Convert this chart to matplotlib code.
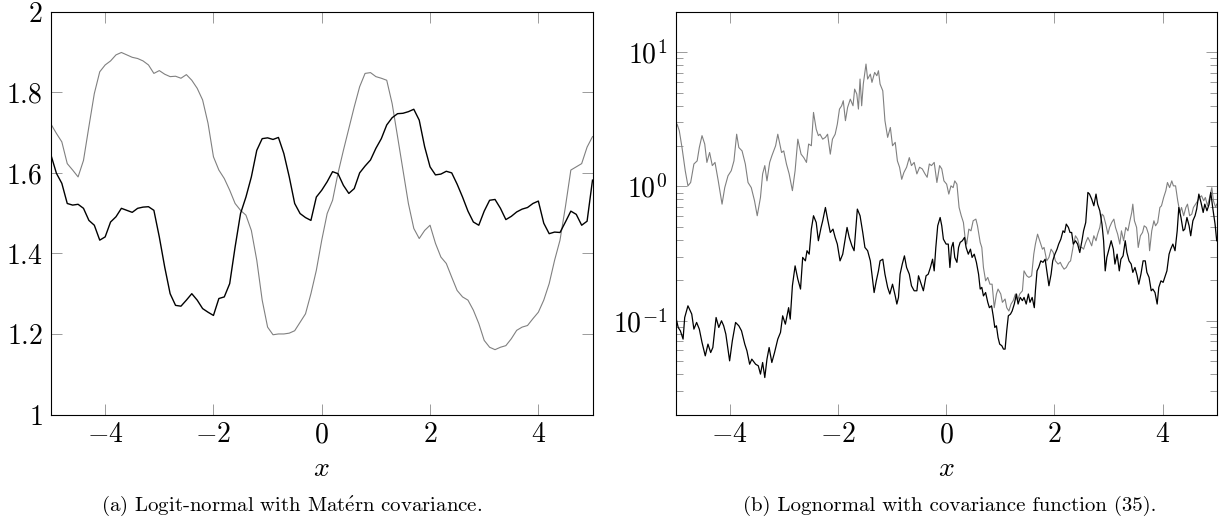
import matplotlib
matplotlib.use("Agg")
import matplotlib.pyplot as plt
import numpy as np
from matplotlib.ticker import FuncFormatter, NullFormatter, LogLocator, FixedLocator

plt.rcParams['mathtext.fontset'] = 'cm'
plt.rcParams['font.family'] = ['cmr10', 'DejaVu Serif']
plt.rcParams['axes.formatter.use_mathtext'] = True

# ---------------- data: panel (a) ----------------
x_a = np.linspace(-5, 5, 101)
grey_a = [1.721, 1.698, 1.677, 1.623, 1.607, 1.590, 1.631, 1.715, 1.797, 1.851,
          1.868, 1.878, 1.893, 1.899, 1.893, 1.887, 1.884, 1.878, 1.868, 1.847,
          1.854, 1.845, 1.839, 1.840, 1.835, 1.844, 1.830, 1.810, 1.781, 1.723,
          1.640, 1.607, 1.586, 1.557, 1.524, 1.507, 1.495, 1.457, 1.383, 1.284,
          1.217, 1.198, 1.200, 1.200, 1.202, 1.208, 1.229, 1.250, 1.300, 1.358,
          1.433, 1.499, 1.532, 1.599, 1.656, 1.710, 1.764, 1.814, 1.847, 1.849,
          1.839, 1.835, 1.830, 1.772, 1.690, 1.607, 1.524, 1.462, 1.437, 1.457,
          1.470, 1.425, 1.391, 1.375, 1.341, 1.308, 1.292, 1.284, 1.259, 1.226,
          1.184, 1.167, 1.161, 1.167, 1.171, 1.188, 1.209, 1.217, 1.221, 1.238,
          1.254, 1.284, 1.325, 1.383, 1.433, 1.516, 1.607, 1.615, 1.623, 1.664,
          1.690]
black_a = [1.644, 1.599, 1.574, 1.524, 1.520, 1.522, 1.512, 1.482, 1.470, 1.433,
           1.441, 1.478, 1.491, 1.512, 1.507, 1.502, 1.512, 1.515, 1.516, 1.507,
           1.441, 1.366, 1.300, 1.271, 1.269, 1.284, 1.300, 1.284, 1.263, 1.254,
           1.246, 1.288, 1.292, 1.325, 1.416, 1.499, 1.540, 1.590, 1.656, 1.685,
           1.687, 1.683, 1.688, 1.648, 1.590, 1.524, 1.499, 1.489, 1.482, 1.540,
           1.557, 1.578, 1.603, 1.598, 1.569, 1.549, 1.561, 1.600, 1.617, 1.632,
           1.661, 1.685, 1.719, 1.737, 1.747, 1.748, 1.752, 1.758, 1.731, 1.665,
           1.615, 1.595, 1.597, 1.604, 1.600, 1.572, 1.540, 1.505, 1.478, 1.470,
           1.505, 1.532, 1.534, 1.512, 1.484, 1.492, 1.503, 1.510, 1.514, 1.524,
           1.530, 1.475, 1.449, 1.453, 1.452, 1.478, 1.505, 1.497, 1.470, 1.480,
           1.582]

# ---------------- data: panel (b) (x, value) ----------------
grey_b = [(-5.00, 2.60), (-4.97, 2.91), (-4.93, 2.60), (-4.88, 1.95), (-4.82, 1.31), (-4.77, 1.01),
          (-4.72, 1.07), (-4.66, 1.47), (-4.60, 1.55), (-4.56, 1.95), (-4.51, 2.39), (-4.46, 2.07),
          (-4.42, 1.51), (-4.37, 1.79), (-4.32, 1.43), (-4.27, 1.51), (-4.21, 1.10), (-4.14, 0.738),
          (-4.09, 0.98), (-4.03, 1.20), (-3.97, 1.31), (-3.92, 1.55), (-3.87, 2.45), (-3.83, 1.95),
          (-3.77, 1.84), (-3.71, 1.47), (-3.66, 1.07), (-3.60, 0.98), (-3.54, 0.782), (-3.49, 0.605),
          (-3.43, 0.828), (-3.39, 1.24), (-3.35, 1.43), (-3.31, 1.10), (-3.26, 1.51), (-3.22, 1.69),
          (-3.15, 2.01), (-3.11, 2.45), (-3.04, 1.79), (-3.00, 1.84), (-2.95, 1.47), (-2.90, 1.24),
          (-2.84, 0.93), (-2.79, 1.31), (-2.74, 2.25), (-2.68, 1.74), (-2.63, 1.64), (-2.58, 1.51),
          (-2.54, 2.07), (-2.49, 2.01), (-2.45, 3.56),
          (-2.40, 2.67), (-2.36, 2.39), (-2.33, 2.45), (-2.28, 2.25), (-2.23, 2.32), (-2.19, 2.45),
          (-2.14, 1.74), (-2.10, 2.25), (-2.05, 2.45), (-2.01, 2.91), (-1.97, 3.77), (-1.93, 3.99),
          (-1.90, 4.35), (-1.86, 3.09), (-1.82, 3.88), (-1.77, 4.47), (-1.72, 3.99), (-1.69, 5.31),
          (-1.65, 4.88), (-1.62, 3.77), (-1.59, 6.31), (-1.56, 3.99), (-1.53, 5.79), (-1.48, 8.16),
          (-1.45, 6.31), (-1.40, 6.87), (-1.37, 5.96), (-1.32, 7.07), (-1.28, 6.68), (-1.25, 7.28),
          (-1.22, 5.79), (-1.17, 5.16), (-1.13, 3.09), (-1.08, 2.32), (-1.03, 2.75), (-0.99, 2.01),
          (-0.94, 2.13), (-0.90, 1.55), (-0.86, 1.39), (-0.82, 1.13), (-0.78, 1.27), (-0.73, 1.39),
          (-0.68, 1.64), (-0.64, 1.43), (-0.59, 1.51), (-0.54, 1.24), (-0.49, 1.39), (-0.44, 1.35),
          (-0.39, 1.24), (-0.35, 1.17), (-0.31, 1.47), (-0.27, 1.43), (-0.22, 1.51), (-0.17, 1.07),
          (-0.12, 1.43), (-0.08, 1.35), (-0.04, 1.10), (0.01, 1.04),
          (0.05, 0.877), (0.09, 1.01), (0.13, 0.98), (0.16, 1.10), (0.20, 1.04), (0.24, 0.697),
          (0.28, 0.605), (0.32, 0.539), (0.35, 0.417), (0.38, 0.372), (0.42, 0.481), (0.46, 0.467),
          (0.50, 0.555), (0.55, 0.571), (0.58, 0.509), (0.63, 0.383), (0.66, 0.351), (0.69, 0.249),
          (0.73, 0.198), (0.77, 0.210), (0.81, 0.187), (0.85, 0.187), (0.89, 0.125), (0.93, 0.158),
          (0.96, 0.172), (1.01, 0.158), (1.04, 0.137), (1.09, 0.145), (1.12, 0.125), (1.16, 0.118),
          (1.20, 0.133), (1.24, 0.141), (1.28, 0.158), (1.32, 0.141), (1.36, 0.158), (1.41, 0.167),
          (1.44, 0.235), (1.49, 0.216), (1.53, 0.210), (1.58, 0.216), (1.62, 0.313), (1.65, 0.372),
          (1.69, 0.441), (1.73, 0.394), (1.78, 0.341), (1.81, 0.351), (1.86, 0.279), (1.90, 0.296),
          (1.94, 0.341), (1.98, 0.322), (2.02, 0.279), (2.07, 0.264), (2.11, 0.272), (2.14, 0.256),
          (2.18, 0.242), (2.22, 0.249), (2.27, 0.272), (2.30, 0.279), (2.35, 0.361), (2.39, 0.429),
          (2.43, 0.405), (2.47, 0.351),
          (2.51, 0.351), (2.54, 0.341), (2.58, 0.383), (2.62, 0.417), (2.65, 0.394), (2.69, 0.361),
          (2.73, 0.429), (2.77, 0.394), (2.80, 0.441), (2.84, 0.495), (2.88, 0.622), (2.91, 0.605),
          (2.95, 0.524), (2.99, 0.441), (3.02, 0.495), (3.06, 0.539), (3.10, 0.571), (3.13, 0.495),
          (3.17, 0.441), (3.21, 0.372), (3.24, 0.467), (3.28, 0.394), (3.32, 0.495), (3.36, 0.467),
          (3.39, 0.539), (3.43, 0.640), (3.45, 0.738), (3.48, 0.555), (3.52, 0.495), (3.55, 0.351),
          (3.59, 0.429), (3.63, 0.454), (3.66, 0.509), (3.70, 0.495), (3.74, 0.441), (3.76, 0.332),
          (3.80, 0.467), (3.84, 0.555), (3.87, 0.509), (3.91, 0.539), (3.95, 0.697), (3.98, 0.718),
          (4.02, 0.828), (4.06, 0.93), (4.09, 1.07), (4.13, 0.98), (4.17, 1.10), (4.20, 1.01),
          (4.24, 1.01), (4.28, 0.782), (4.32, 0.640), (4.35, 0.697), (4.39, 0.605), (4.43, 0.697),
          (4.46, 0.738), (4.50, 0.605), (4.54, 0.622), (4.57, 0.697), (4.61, 0.738), (4.65, 0.782),
          (4.68, 0.828), (4.72, 0.852), (4.76, 0.782), (4.79, 0.828), (4.83, 0.718), (4.87, 0.828),
          (4.91, 0.98), (4.94, 0.782), (4.98, 0.697), (5.00, 0.738)]

black_b = [(-5.00, 0.1087), (-4.95, 0.0890), (-4.91, 0.0840), (-4.86, 0.0729), (-4.83, 0.1056),
           (-4.77, 0.129), (-4.70, 0.112), (-4.66, 0.0865), (-4.61, 0.0970), (-4.56, 0.0865),
           (-4.51, 0.0688), (-4.45, 0.0547), (-4.40, 0.0669), (-4.35, 0.0579), (-4.31, 0.0631),
           (-4.25, 0.1056), (-4.20, 0.0890), (-4.15, 0.0998), (-4.11, 0.0916), (-4.07, 0.0794),
           (-4.00, 0.0502), (-3.95, 0.0708), (-3.89, 0.0970), (-3.83, 0.0916), (-3.78, 0.0840),
           (-3.72, 0.0669), (-3.68, 0.0596), (-3.63, 0.0474), (-3.59, 0.0517), (-3.52, 0.0474),
           (-3.47, 0.0461), (-3.43, 0.0400), (-3.39, 0.0488), (-3.35, 0.0377), (-3.31, 0.0517),
           (-3.27, 0.0631), (-3.22, 0.0488), (-3.17, 0.0579), (-3.11, 0.0729), (-3.06, 0.0817),
           (-3.02, 0.1087), (-2.97, 0.0942), (-2.91, 0.125), (-2.88, 0.1027), (-2.84, 0.182),
           (-2.79, 0.256), (-2.74, 0.204), (-2.69, 0.172), (-2.65, 0.296), (-2.60, 0.279),
           (-2.57, 0.332), (-2.53, 0.313), (-2.49, 0.481), (-2.45, 0.605),
           (-2.40, 0.539), (-2.36, 0.394), (-2.31, 0.495), (-2.28, 0.555), (-2.23, 0.697),
           (-2.19, 0.571), (-2.14, 0.454), (-2.09, 0.481), (-2.05, 0.417), (-2.01, 0.372),
           (-1.96, 0.279), (-1.91, 0.313), (-1.87, 0.394), (-1.83, 0.495), (-1.79, 0.417),
           (-1.74, 0.361), (-1.70, 0.332), (-1.66, 0.539), (-1.64, 0.678), (-1.59, 0.605),
           (-1.54, 0.454), (-1.50, 0.351), (-1.45, 0.332), (-1.40, 0.279), (-1.37, 0.222),
           (-1.33, 0.162), (-1.29, 0.198), (-1.25, 0.235), (-1.22, 0.279), (-1.17, 0.287),
           (-1.13, 0.222), (-1.08, 0.177), (-1.04, 0.158), (-0.99, 0.187), (-0.94, 0.153),
           (-0.91, 0.133), (-0.88, 0.149), (-0.85, 0.222), (-0.81, 0.264), (-0.77, 0.304),
           (-0.73, 0.249), (-0.68, 0.222), (-0.64, 0.182), (-0.59, 0.167), (-0.54, 0.167),
           (-0.51, 0.216), (-0.46, 0.187), (-0.42, 0.167), (-0.37, 0.216), (-0.33, 0.222),
           (-0.29, 0.249), (-0.25, 0.287), (-0.22, 0.235), (-0.19, 0.351), (-0.155, 0.509),
           (-0.11, 0.587), (-0.08, 0.509), (-0.05, 0.405), (0.00, 0.372), (0.04, 0.372),
           (0.07, 0.249),
           (0.10, 0.351), (0.13, 0.383), (0.16, 0.296), (0.20, 0.272), (0.23, 0.351),
           (0.26, 0.383), (0.30, 0.394), (0.34, 0.417), (0.37, 0.351), (0.41, 0.313),
           (0.45, 0.341), (0.48, 0.296), (0.52, 0.313), (0.56, 0.272), (0.60, 0.222),
           (0.63, 0.172), (0.66, 0.177), (0.69, 0.153), (0.73, 0.162), (0.77, 0.137),
           (0.80, 0.125), (0.84, 0.129), (0.87, 0.1087), (0.90, 0.0890), (0.93, 0.0916),
           (0.96, 0.0750), (0.99, 0.0669), (1.03, 0.0650), (1.06, 0.0614), (1.09, 0.0614),
           (1.12, 0.0840), (1.15, 0.1087), (1.19, 0.112), (1.22, 0.118), (1.26, 0.133),
           (1.30, 0.158), (1.33, 0.133), (1.37, 0.149), (1.41, 0.141), (1.44, 0.149),
           (1.48, 0.133), (1.52, 0.158), (1.55, 0.137), (1.59, 0.149), (1.63, 0.125),
           (1.65, 0.167), (1.68, 0.235), (1.71, 0.249), (1.75, 0.279), (1.79, 0.272),
           (1.83, 0.287), (1.86, 0.235), (1.90, 0.182), (1.94, 0.222), (1.97, 0.279),
           (2.01, 0.313), (2.05, 0.341), (2.08, 0.372), (2.12, 0.405), (2.16, 0.467),
           (2.19, 0.454), (2.22, 0.524), (2.26, 0.495), (2.29, 0.454), (2.32, 0.454),
           (2.35, 0.372), (2.39, 0.394), (2.43, 0.372), (2.47, 0.322),
           (2.51, 0.394), (2.54, 0.467), (2.58, 0.539), (2.62, 0.902), (2.65, 0.877),
           (2.69, 0.805), (2.73, 0.718), (2.77, 0.877), (2.80, 0.738), (2.84, 0.659),
           (2.88, 0.524), (2.91, 0.394), (2.94, 0.235), (2.97, 0.296), (3.01, 0.341),
           (3.05, 0.394), (3.09, 0.341), (3.12, 0.264), (3.16, 0.313), (3.20, 0.235),
           (3.23, 0.287), (3.27, 0.304), (3.31, 0.394), (3.34, 0.322), (3.38, 0.279),
           (3.42, 0.264), (3.45, 0.229), (3.49, 0.249), (3.53, 0.216), (3.56, 0.187),
           (3.60, 0.222), (3.64, 0.279), (3.68, 0.279), (3.71, 0.229), (3.75, 0.210),
           (3.79, 0.167), (3.82, 0.172), (3.86, 0.162), (3.90, 0.133), (3.93, 0.177),
           (3.97, 0.198), (4.01, 0.193), (4.04, 0.210), (4.08, 0.235), (4.12, 0.313),
           (4.15, 0.341), (4.19, 0.372), (4.23, 0.332), (4.27, 0.467), (4.30, 0.697),
           (4.34, 0.587), (4.38, 0.467), (4.41, 0.481), (4.45, 0.587), (4.49, 0.509),
           (4.52, 0.429), (4.56, 0.555), (4.60, 0.605), (4.63, 0.678), (4.67, 0.877),
           (4.71, 0.760), (4.75, 0.640), (4.78, 0.738), (4.82, 0.659), (4.86, 0.738),
           (4.89, 0.902), (4.93, 0.678), (4.97, 0.524), (5.00, 0.394)]

x_ticks = [-4, -2, 0, 2, 4]
y_ticks_a = [1, 1.2, 1.4, 1.6, 1.8, 2]
captions = [r"(a) Logit-normal with Mat$\mathrm{\acute{e}}$rn covariance.",
            "(b) Lognormal with covariance function (35)."]

GREY = '#808080'
W, H = 1226, 517

fig = plt.figure(figsize=(W / 100, H / 100), dpi=100)
ax1 = fig.add_axes([51 / W, 102.5 / H, 541.5 / W, 402.7 / H])
ax2 = fig.add_axes([675.5 / W, 102.5 / H, 541.2 / W, 402.7 / H])

# panel (a)
ax1.plot(x_a, grey_a, color=GREY, lw=0.8)
ax1.plot(x_a, black_a, color='black', lw=1.0)
ax1.set_xlim(-5, 5)
ax1.set_ylim(1, 2)
ax1.yaxis.set_major_locator(FixedLocator(y_ticks_a))
ax1.yaxis.set_major_formatter(FuncFormatter(lambda v, p: f"${v:g}$"))

# panel (b)
gx, gv = zip(*grey_b)
bx, bv = zip(*black_b)
ax2.plot(gx, gv, color=GREY, lw=0.8)
ax2.plot(bx, bv, color='black', lw=0.9)
ax2.set_yscale('log')
ax2.set_xlim(-5, 5)
ax2.set_ylim(0.02, 20)
ax2.yaxis.set_major_locator(LogLocator(base=10, numticks=10))
ax2.yaxis.set_minor_locator(LogLocator(base=10, subs=np.arange(2, 10), numticks=20))
ax2.yaxis.set_minor_formatter(NullFormatter())

for ax, cap, cx in ((ax1, captions[0], 292), (ax2, captions[1], 950)):
    ax.xaxis.set_major_locator(FixedLocator(x_ticks))
    ax.xaxis.set_major_formatter(FuncFormatter(lambda v, p: f"${v:g}$"))
    ax.tick_params(which='major', direction='in', top=True, right=True,
                   length=7.9, width=0.6, color='0.55', labelsize=20)
    ax.tick_params(which='minor', direction='in', left=True, right=True,
                   length=4.8, width=0.6, color='0.55')
    ax.tick_params(axis='x', pad=5.5)
    ax.tick_params(axis='y', pad=6)
    for s in ax.spines.values():
        s.set_linewidth(0.8)
        s.set_color('black')
    ax.set_xlabel('$x$', fontsize=20, labelpad=5)
    fig.text(cx / W, 6 / H, cap, ha='center', va='baseline', fontsize=15)

fig.savefig('out.png', dpi=100)
